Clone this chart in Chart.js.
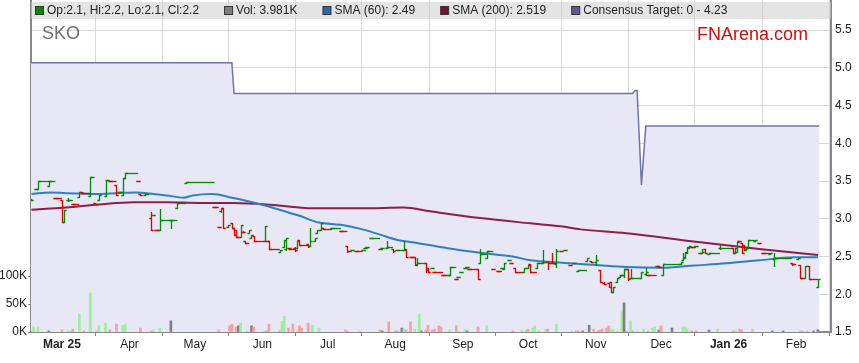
<!DOCTYPE html>
<html>
<head>
<meta charset="utf-8">
<script src="https://cdn.jsdelivr.net/npm/chart.js@4/dist/chart.umd.min.js"></script>
<style>
  html, body { margin: 0; padding: 0; background: #fff; }
  #wrap { width: 859px; height: 363px; }
</style>
</head>
<body>
<div id="wrap"><canvas id="chart" width="859" height="363"></canvas></div>
<script>
const FONT = '"Liberation Sans", Arial, sans-serif';

// day numbers are counted from 1 Mar 2025
const monthDays = [0, 31, 61, 92, 122, 153, 184, 214, 245, 275, 306, 337];
const monthLabels = ['Mar 25', 'Apr', 'May', 'Jun', 'Jul', 'Aug', 'Sep', 'Oct', 'Nov', 'Dec', 'Jan 26', 'Feb'];
const yearLabels = ['Mar 25', 'Jan 26'];

const priceTicks = [1.5, 2.0, 2.5, 3.0, 3.5, 4.0, 4.5, 5.0, 5.5];
const volumeTicks = [0, 50, 100];

// days that traded
const barDay = [-14, -12, -11, -6, -3, 0, 1, 3, 5, 8, 9, 13, 15, 17, 20, 22, 25, 26, 28, 29,
  35, 36, 38, 41, 42, 43, 45, 50, 53, 57, 70, 72, 73, 74, 76, 78, 79, 80, 82, 83,
  84, 86, 87, 88, 93, 94, 95, 100, 102, 103, 104, 107, 108, 109, 113, 114, 116, 117, 119, 120,
  124, 128, 131, 133, 135, 138, 139, 140, 142, 146, 147, 149, 152, 154, 157, 158, 160, 162, 163, 167,
  168, 170, 171, 175, 177, 178, 181, 182, 183, 185, 186, 187, 191, 192, 195, 198, 200, 202, 203, 205,
  206, 208, 212, 214, 215, 218, 221, 223, 225, 227, 229, 231, 233, 235, 237, 241, 243, 245, 247, 249,
  251, 252, 253, 255, 256, 258, 260, 261, 266, 268, 269, 273, 274, 276, 284, 285, 286, 287, 288, 289,
  291, 293, 294, 295, 297, 302, 308, 309, 310, 311, 312, 313, 314, 315, 318, 320, 322, 325, 327, 335,
  338, 339, 341, 343, 347];
const barOpen = [3.25, 3.40, 3.40, 3.44, 3.27, 3.25, 2.96, 3.25, 3.20, 3.29, 3.35, 3.30, 3.21, 3.25, 3.30, 3.50, 3.45, 3.36, 3.32, 3.54,
  3.50, 3.33, 3.32, 3.01, 3.05, 2.85, 2.85, 2.99, 3.14, 3.47, 3.16, 2.89, 3.10, 3.14, 2.89, 2.95, 2.88, 2.85, 2.76, 2.83,
  2.70, 2.81, 2.75, 2.77, 2.71, 2.71, 2.70, 2.56, 2.63, 2.60, 2.61, 2.61, 2.61, 2.72, 2.67, 2.64, 2.71, 2.81, 2.85, 2.88,
  2.88, 2.84, 2.64, 2.59, 2.58, 2.59, 2.61, 2.63, 2.75, 2.60, 2.61, 2.61, 2.60, 2.59, 2.59, 2.60, 2.50, 2.50, 2.40, 2.42,
  2.35, 2.35, 2.30, 2.25, 2.26, 2.26, 2.20, 2.23, 2.30, 2.35, 2.36, 2.34, 2.34, 2.42, 2.48, 2.34, 2.31, 2.35, 2.34, 2.46,
  2.42, 2.35, 2.30, 2.35, 2.40, 2.35, 2.42, 2.43, 2.42, 2.40, 2.57, 2.59, 2.39, 2.42, 2.31, 2.44, 2.44, 2.43, 2.32, 2.15,
  2.15, 2.16, 2.03, 2.16, 2.23, 2.25, 2.33, 2.21, 2.22, 2.27, 2.26, 2.37, 2.37, 2.26, 2.40, 2.46, 2.48, 2.55, 2.61, 2.63,
  2.64, 2.55, 2.55, 2.60, 2.54, 2.61, 2.61, 2.55, 2.56, 2.71, 2.68, 2.65, 2.59, 2.61, 2.70, 2.68, 2.55, 2.54, 2.47, 2.42,
  2.47, 2.39, 2.22, 2.38, 2.10];
const barHigh = [3.26, 3.40, 3.50, 3.50, 3.27, 3.25, 3.12, 3.27, 3.20, 3.36, 3.35, 3.55, 3.21, 3.32, 3.52, 3.50, 3.45, 3.36, 3.54, 3.61,
  3.50, 3.33, 3.33, 3.09, 3.05, 2.85, 3.13, 2.99, 3.21, 3.49, 3.16, 2.89, 3.14, 3.14, 2.92, 2.95, 2.88, 2.85, 2.92, 2.84,
  2.70, 2.85, 2.79, 2.77, 2.90, 2.71, 2.70, 2.59, 2.72, 2.75, 2.61, 2.62, 2.70, 2.72, 2.67, 2.88, 2.75, 2.85, 2.95, 2.88,
  2.88, 2.84, 2.64, 2.59, 2.58, 2.59, 2.61, 2.63, 2.75, 2.60, 2.61, 2.71, 2.60, 2.59, 2.70, 2.60, 2.50, 2.50, 2.48, 2.42,
  2.35, 2.35, 2.30, 2.25, 2.26, 2.36, 2.20, 2.23, 2.30, 2.35, 2.36, 2.34, 2.34, 2.60, 2.57, 2.34, 2.31, 2.35, 2.42, 2.46,
  2.42, 2.35, 2.35, 2.39, 2.40, 2.42, 2.59, 2.43, 2.55, 2.60, 2.57, 2.59, 2.39, 2.42, 2.32, 2.48, 2.44, 2.52, 2.32, 2.16,
  2.15, 2.16, 2.10, 2.22, 2.25, 2.34, 2.33, 2.33, 2.29, 2.35, 2.26, 2.37, 2.37, 2.40, 2.43, 2.55, 2.56, 2.63, 2.64, 2.63,
  2.64, 2.55, 2.60, 2.60, 2.55, 2.65, 2.61, 2.61, 2.69, 2.71, 2.68, 2.65, 2.61, 2.72, 2.72, 2.68, 2.55, 2.55, 2.55, 2.42,
  2.48, 2.39, 2.38, 2.38, 2.20];
const barLow = [3.25, 3.40, 3.40, 3.44, 3.27, 2.96, 2.96, 3.24, 3.20, 3.29, 3.34, 3.30, 3.20, 3.25, 3.30, 3.50, 3.32, 3.36, 3.32, 3.54,
  3.50, 3.32, 3.32, 2.85, 3.05, 2.85, 2.85, 2.88, 3.14, 3.47, 3.16, 2.89, 3.09, 2.88, 2.89, 2.88, 2.79, 2.76, 2.76, 2.82,
  2.68, 2.81, 2.75, 2.71, 2.71, 2.71, 2.60, 2.56, 2.63, 2.59, 2.61, 2.58, 2.61, 2.65, 2.63, 2.64, 2.71, 2.81, 2.85, 2.87,
  2.88, 2.84, 2.56, 2.59, 2.58, 2.59, 2.61, 2.63, 2.75, 2.60, 2.61, 2.61, 2.56, 2.59, 2.59, 2.50, 2.50, 2.39, 2.39, 2.30,
  2.30, 2.35, 2.30, 2.25, 2.26, 2.26, 2.20, 2.23, 2.30, 2.35, 2.36, 2.34, 2.20, 2.42, 2.48, 2.34, 2.31, 2.35, 2.34, 2.46,
  2.42, 2.29, 2.30, 2.35, 2.29, 2.35, 2.42, 2.34, 2.42, 2.36, 2.57, 2.59, 2.39, 2.42, 2.31, 2.44, 2.43, 2.39, 2.16, 2.14,
  2.10, 2.03, 2.03, 2.16, 2.23, 2.23, 2.19, 2.21, 2.22, 2.26, 2.26, 2.37, 2.36, 2.26, 2.40, 2.46, 2.48, 2.55, 2.61, 2.63,
  2.64, 2.55, 2.55, 2.55, 2.54, 2.60, 2.55, 2.55, 2.56, 2.70, 2.55, 2.59, 2.59, 2.61, 2.70, 2.68, 2.55, 2.54, 2.38, 2.39,
  2.47, 2.22, 2.22, 2.20, 2.10];
const barClose = [3.25, 3.40, 3.50, 3.50, 3.27, 2.96, 3.12, 3.25, 3.20, 3.36, 3.34, 3.55, 3.20, 3.32, 3.52, 3.50, 3.32, 3.36, 3.54, 3.61,
  3.50, 3.32, 3.33, 2.85, 3.05, 2.85, 2.99, 2.99, 3.21, 3.49, 3.16, 2.89, 3.14, 2.88, 2.92, 2.88, 2.79, 2.76, 2.92, 2.82,
  2.68, 2.85, 2.79, 2.71, 2.90, 2.71, 2.60, 2.59, 2.72, 2.75, 2.61, 2.59, 2.70, 2.65, 2.64, 2.71, 2.75, 2.85, 2.95, 2.87,
  2.88, 2.84, 2.58, 2.59, 2.58, 2.59, 2.61, 2.63, 2.75, 2.60, 2.61, 2.62, 2.57, 2.59, 2.59, 2.50, 2.50, 2.39, 2.42, 2.32,
  2.30, 2.35, 2.30, 2.25, 2.26, 2.36, 2.20, 2.23, 2.30, 2.35, 2.36, 2.34, 2.20, 2.54, 2.57, 2.34, 2.31, 2.35, 2.42, 2.46,
  2.42, 2.30, 2.35, 2.39, 2.30, 2.42, 2.43, 2.42, 2.42, 2.58, 2.57, 2.59, 2.39, 2.42, 2.32, 2.48, 2.43, 2.45, 2.16, 2.14,
  2.10, 2.03, 2.10, 2.22, 2.25, 2.34, 2.20, 2.22, 2.29, 2.29, 2.26, 2.37, 2.36, 2.40, 2.43, 2.50, 2.56, 2.63, 2.64, 2.63,
  2.64, 2.55, 2.56, 2.55, 2.55, 2.61, 2.55, 2.61, 2.69, 2.70, 2.55, 2.60, 2.61, 2.72, 2.72, 2.68, 2.55, 2.55, 2.48, 2.40,
  2.48, 2.22, 2.38, 2.20, 2.20];

// days with no trade, last price carried
const flatFrom = [-11, -6, -3, 3, 5, 9, 13, 20, 22, 26, 29, 38, 43, 45, 53, 57, 70, 80, 84, 88,
  95, 104, 109, 120, 124, 128, 131, 135, 142, 149, 154, 160, 163, 171, 175, 178, 187, 192, 195, 200,
  208, 215, 218, 221, 225, 237, 256, 258, 261, 269, 276, 289, 297, 302, 315, 322, 327, 335, 339, 343];
const flatTo = [-6, -4, -1, 4, 7, 12, 14, 21, 24, 27, 34, 39, 44, 52, 56, 69, 71, 81, 85, 92,
  99, 106, 112, 123, 127, 130, 132, 137, 145, 151, 156, 161, 166, 174, 176, 180, 190, 194, 197, 201,
  211, 217, 220, 222, 226, 240, 257, 259, 265, 272, 283, 290, 301, 307, 317, 324, 334, 336, 340, 346];
const flatPrice = [3.50, 3.50, 3.27, 3.25, 3.20, 3.34, 3.55, 3.52, 3.50, 3.36, 3.61, 3.33, 2.85, 2.99, 3.21, 3.49, 3.16, 2.76, 2.68, 2.71,
  2.60, 2.60, 2.65, 2.87, 2.88, 2.84, 2.58, 2.58, 2.75, 2.62, 2.59, 2.50, 2.42, 2.30, 2.25, 2.36, 2.34, 2.54, 2.57, 2.31,
  2.30, 2.30, 2.42, 2.43, 2.42, 2.32, 2.25, 2.34, 2.22, 2.26, 2.40, 2.63, 2.55, 2.61, 2.72, 2.55, 2.48, 2.40, 2.22, 2.20];

// volume in thousands of shares; u = up day, d = down day, n = unchanged
const volDay = [-14, -13, -11, -6, 0, 3, 4, 5, 8, 10, 13, 16, 17, 20, 22, 25, 28, 29, 36, 41,
  42, 45, 50, 72, 77, 78, 80, 81, 82, 85, 87, 88, 93, 94, 95, 100, 101, 102, 104, 106,
  108, 109, 110, 113, 115, 118, 130, 131, 137, 146, 147, 150, 153, 154, 156, 157, 158, 160, 162, 164,
  165, 167, 168, 170, 171, 173, 174, 178, 181, 182, 185, 186, 191, 195, 207, 211, 213, 214, 216, 217,
  219, 222, 223, 227, 234, 236, 237, 239, 242, 244, 246, 247, 248, 250, 251, 252, 253, 255, 257, 258,
  259, 261, 262, 264, 267, 269, 271, 272, 274, 275, 280, 285, 286, 287, 289, 291, 297, 301, 308, 309,
  311, 312, 317, 326, 331, 339, 340, 342, 345, 347];
const volK = [1, 9, 9, 2, 3.5, 2, 2, 5, 32, 2, 70, 2, 11, 16, 4, 14, 12, 14, 7, 2,
  3.5, 7, 20, 3.5, 11, 14, 9, 11, 16, 2, 11, 9, 2, 2, 14, 2, 19, 28, 7, 14,
  2, 11, 7, 16, 12, 7, 3.5, 2, 2, 3.5, 2, 18, 2, 2, 7, 5, 3.5, 18, 5, 32,
  2, 3.5, 12, 3.5, 5, 11, 9, 3.5, 11, 2, 5, 2, 9, 11, 2, 3.5, 3.5, 5, 7, 11,
  2, 5, 5, 14, 2, 2, 2, 2, 12, 5, 2, 3.5, 5, 7, 11, 5, 5, 2, 36, 52,
  2, 20, 2, 2, 5, 2, 7, 9, 3.5, 11, 7, 9, 9, 5, 2, 2, 3.5, 5, 2, 3.5,
  5, 3.5, 5, 2, 2, 1.5, 1.5, 1.5, 2, 3.981];
const volMove = ['d', 'u', 'u', 'n', 'd', 'u', 'u', 'd', 'u', 'd', 'u', 'd', 'u', 'u', 'd', 'd', 'u', 'u', 'd', 'd',
  'u', 'u', 'n', 'd', 'd', 'd', 'd', 'n', 'u', 'u', 'n', 'd', 'u', 'd', 'd', 'd', 'u', 'u', 'd', 'd',
  'u', 'd', 'd', 'd', 'u', 'u', 'd', 'd', 'u', 'd', 'n', 'd', 'd', 'd', 'n', 'u', 'd', 'd', 'u', 'u',
  'n', 'd', 'd', 'd', 'd', 'd', 'd', 'u', 'd', 'u', 'u', 'n', 'd', 'u', 'd', 'u', 'u', 'd', 'u', 'u',
  'u', 'u', 'd', 'u', 'u', 'd', 'd', 'n', 'n', 'd', 'd', 'd', 'd', 'd', 'd', 'u', 'u', 'u', 'u', 'n',
  'd', 'u', 'd', 'u', 'u', 'd', 'u', 'u', 'n', 'd', 'n', 'u', 'u', 'u', 'd', 'd', 'n', 'u', 'd', 'u',
  'd', 'd', 'u', 'n', 'n', 'd', 'd', 'd', 'n', 'n'];

const sma60Day = [-14, -5, 2, 17, 25, 34, 42, 48, 56, 60, 69, 78, 86, 94, 101, 109, 118, 128, 138, 146,
  154, 161, 177, 192, 207, 215, 223, 238, 244, 259, 275, 290, 305, 320, 336, 347];
const sma60 = [3.33, 3.35, 3.34, 3.33, 3.34, 3.35, 3.33, 3.31, 3.28, 3.31, 3.33, 3.28, 3.23, 3.17, 3.11, 3.04, 2.95, 2.92, 2.86, 2.79,
  2.72, 2.69, 2.61, 2.55, 2.50, 2.45, 2.43, 2.40, 2.39, 2.36, 2.35, 2.38, 2.41, 2.45, 2.49, 2.49];

const sma200Day = [-14, 2, 17, 33, 48, 63, 79, 94, 109, 115, 138, 157, 169, 192, 215, 229, 238, 259, 290, 320, 347];
const sma200 = [3.12, 3.15, 3.19, 3.22, 3.22, 3.21, 3.21, 3.19, 3.15, 3.14, 3.14, 3.15, 3.10, 3.01, 2.94, 2.90, 2.86, 2.81, 2.70, 2.60, 2.519];

const targetDay = [-14.2, 78, 79, 262, 263, 264, 266, 268, 347.6];
const target = [5.07, 5.07, 4.66, 4.66, 4.70, 4.70, 3.45, 4.23, 4.23];
const targetLow = 0;

const GREEN = '#008a00';
const RED = '#e00000';
const volColour = { u: '#9cf09c', d: '#f8a0a0', n: '#7f7f7f' };

function barColours() {
  const out = [];
  barDay.forEach((d, i) => {
    let c;
    if (barClose[i] > barOpen[i]) c = GREEN;
    else if (barClose[i] < barOpen[i]) c = RED;
    else if (i > 0 && barClose[i] > barClose[i - 1]) c = GREEN;
    else if (i > 0 && barClose[i] < barClose[i - 1]) c = RED;
    else c = i > 0 ? out[i - 1] : GREEN;
    out.push(c);
  });
  return out;
}

function num(v) {
  return String(Number(v.toFixed(3)));
}

const ohlcPlugin = {
  id: 'ohlc',
  afterDatasetsDraw(chart) {
    const { ctx, chartArea: a } = chart;
    const x = chart.scales.x, y = chart.scales.y;
    const half = x.getPixelForValue(1) - x.getPixelForValue(0);
    const colours = barColours();
    const snap = v => Math.round(v) + 0.5;

    ctx.save();
    ctx.beginPath();
    ctx.rect(a.left, a.top, a.right - a.left, a.bottom - a.top);
    ctx.clip();
    ctx.lineWidth = 1.3;

    flatFrom.forEach((d, i) => {
      let k = 0;
      barDay.forEach((bd, j) => { if (bd <= d) k = j; });
      const py = snap(y.getPixelForValue(flatPrice[i]));
      ctx.strokeStyle = colours[k];
      ctx.beginPath();
      ctx.moveTo(x.getPixelForValue(d), py);
      ctx.lineTo(x.getPixelForValue(flatTo[i]) + half, py);
      ctx.stroke();
    });

    barDay.forEach((d, i) => {
      const px = snap(x.getPixelForValue(d));
      const po = snap(y.getPixelForValue(barOpen[i]));
      const pc = snap(y.getPixelForValue(barClose[i]));
      ctx.strokeStyle = colours[i];
      ctx.beginPath();
      ctx.moveTo(px, Math.round(y.getPixelForValue(barHigh[i])));
      ctx.lineTo(px, Math.round(y.getPixelForValue(barLow[i])) + 1);
      ctx.moveTo(px - half, po);
      ctx.lineTo(px, po);
      ctx.moveTo(px, pc);
      ctx.lineTo(px + half, pc);
      ctx.stroke();
    });
    ctx.restore();
  }
};

const headerPlugin = {
  id: 'header',
  afterDraw(chart) {
    const { ctx, chartArea: a } = chart;
    const last = barDay.length - 1;
    const items = [
      { colour: GREEN, text: 'Op:' + num(barOpen[last]) + ', Hi:' + num(barHigh[last]) + ', Lo:' + num(barLow[last]) + ', Cl:' + num(barClose[last]) },
      { colour: '#7f7f7f', text: 'Vol: ' + volK[volK.length - 1].toFixed(3) + 'K' },
      { colour: '#1f6fae', text: 'SMA (60): ' + num(sma60[sma60.length - 1]) },
      { colour: '#7d0f33', text: 'SMA (200): ' + num(sma200[sma200.length - 1]) },
      { colour: '#5c5c8c', text: 'Consensus Target: ' + targetLow + ' - ' + num(target[target.length - 1]) }
    ];

    ctx.save();
    ctx.fillStyle = 'rgba(205,205,205,0.55)';
    ctx.fillRect(a.left, 2, a.right - a.left, 17);

    ctx.font = '12px ' + FONT;
    ctx.textBaseline = 'middle';
    let xPos = a.left + 4;
    items.forEach(it => {
      ctx.fillStyle = it.colour;
      ctx.fillRect(xPos + 0.5, 6.5, 8, 8);
      ctx.strokeStyle = '#333';
      ctx.lineWidth = 1;
      ctx.strokeRect(xPos + 0.5, 6.5, 8, 8);
      ctx.fillStyle = '#222';
      ctx.fillText(it.text, xPos + 12, 11);
      xPos += 12 + ctx.measureText(it.text).width + 25;
    });

    ctx.font = '18px ' + FONT;
    ctx.textBaseline = 'alphabetic';
    ctx.fillStyle = '#707070';
    ctx.textAlign = 'left';
    ctx.fillText('SKO', a.left + 11, 39);
    ctx.fillStyle = '#cc1010';
    ctx.textAlign = 'right';
    ctx.fillText('FNArena.com', 808, 40);
    ctx.restore();
  }
};

new Chart(document.getElementById('chart'), {
  type: 'line',
  data: {
    datasets: [
      {
        label: 'SMA (60)',
        data: sma60Day.map((d, i) => ({ x: d, y: sma60[i] })),
        borderColor: '#2f80c0',
        borderWidth: 2,
        pointRadius: 0,
        cubicInterpolationMode: 'monotone',
        yAxisID: 'y',
        order: 1
      },
      {
        label: 'SMA (200)',
        data: sma200Day.map((d, i) => ({ x: d, y: sma200[i] })),
        borderColor: '#8e1d48',
        borderWidth: 2,
        pointRadius: 0,
        cubicInterpolationMode: 'monotone',
        yAxisID: 'y',
        order: 2
      },
      {
        type: 'bar',
        label: 'Vol',
        data: volDay.map((d, i) => ({ x: d, y: volK[i] })),
        backgroundColor: volMove.map(m => volColour[m]),
        barThickness: 2,
        yAxisID: 'yv',
        order: 3
      },
      {
        label: 'Consensus Target',
        data: targetDay.map((d, i) => ({ x: d, y: target[i] })),
        borderColor: '#7272b0',
        borderWidth: 1.5,
        backgroundColor: '#e7e7f6',
        fill: 'start',
        pointRadius: 0,
        tension: 0,
        yAxisID: 'y',
        order: 4
      }
    ]
  },
  options: {
    responsive: false,
    animation: false,
    devicePixelRatio: 1,
    layout: { padding: 0 },
    plugins: { legend: { display: false }, tooltip: { enabled: false } },
    scales: {
      x: {
        type: 'linear',
        min: -14.2,
        max: 353,
        offset: false,
        afterBuildTicks: s => { s.ticks = monthDays.map(v => ({ value: v })); },
        afterFit: s => { s.height = 31; s.paddingLeft = 0; s.paddingRight = 0; },
        grid: { color: '#dadada', tickColor: '#888', tickLength: 4 },
        border: { color: '#888', width: 2 },
        ticks: {
          autoSkip: false,
          maxRotation: 0,
          padding: 1,
          color: '#222',
          font: c => ({ family: FONT, size: 12, weight: yearLabels.includes(monthLabels[c.index]) ? 'bold' : 'normal' }),
          callback: (v, i) => monthLabels[i]
        }
      },
      yv: {
        position: 'left',
        min: 0,
        max: 593,
        afterBuildTicks: s => { s.ticks = volumeTicks.map(v => ({ value: v })); },
        afterFit: s => { s.width = 31; s.paddingTop = 0; s.paddingBottom = 0; },
        grid: { drawOnChartArea: false, tickColor: '#888', tickLength: 3 },
        border: { color: '#888', width: 2 },
        ticks: { padding: 1, color: '#222', font: { family: FONT, size: 12 }, callback: v => v + 'K' }
      },
      y: {
        position: 'right',
        min: 1.5,
        max: 5.9,
        afterBuildTicks: s => { s.ticks = priceTicks.map(v => ({ value: v })); },
        afterFit: s => { s.width = 28; s.paddingTop = 0; s.paddingBottom = 0; },
        grid: { color: '#dadada', drawTicks: false },
        border: { color: '#888', width: 2 },
        ticks: { padding: 4, color: '#222', font: { family: FONT, size: 12 }, callback: v => v.toFixed(1) }
      }
    }
  },
  plugins: [ohlcPlugin, headerPlugin]
});
</script>
</body>
</html>
